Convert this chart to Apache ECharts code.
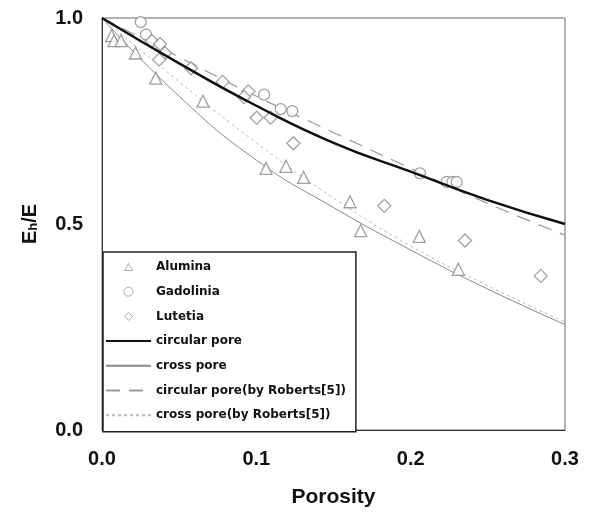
<!DOCTYPE html>
<html>
<head>
<meta charset="utf-8">
<script src="https://cdn.jsdelivr.net/npm/echarts@6/dist/echarts.min.js"></script>
<style>html,body{margin:0;padding:0;background:#fff}#c{width:596px;height:513px}</style>
</head>
<body>
<div id="c"></div>
<script>
// Measured data
const aluminaX = [0.0062, 0.0078, 0.0123, 0.0217, 0.0348, 0.0654, 0.1063, 0.1192, 0.1306, 0.1607, 0.1676, 0.2056, 0.2309];
const aluminaY = [0.957, 0.945, 0.945, 0.915, 0.854, 0.798, 0.635, 0.640, 0.613, 0.554, 0.484, 0.470, 0.390];
const gadoliniaX = [0.0251, 0.0285, 0.1050, 0.1158, 0.1233, 0.2060, 0.2233, 0.2270, 0.2298];
const gadoliniaY = [0.990, 0.960, 0.814, 0.779, 0.774, 0.623, 0.602, 0.602, 0.602];
const lutetiaX = [0.0322, 0.0376, 0.0408, 0.0371, 0.0577, 0.0782, 0.0948, 0.0920, 0.1002, 0.1093, 0.1240, 0.1829, 0.2352, 0.2843];
const lutetiaY = [0.944, 0.937, 0.915, 0.899, 0.878, 0.845, 0.822, 0.808, 0.758, 0.758, 0.696, 0.544, 0.460, 0.374];

const curveX = [0, 0.05, 0.1, 0.15, 0.2, 0.25, 0.3];
const circularPore = [1.0, 0.89, 0.787, 0.697, 0.627, 0.558, 0.500];
const crossPore = [1.0, 0.81, 0.655, 0.540, 0.437, 0.342, 0.256];
const circularRoberts = [1.0, 0.905, 0.810, 0.722, 0.635, 0.550, 0.473];
const crossRoberts = [1.0, 0.845, 0.697, 0.563, 0.447, 0.350, 0.262];

const xTicks = ['0.0', '0.1', '0.2', '0.3'];
const yTicks = ['0.0', '0.5', '1.0'];

const seriesNames = ['Alumina', 'Gadolinia', 'Lutetia', 'circular pore', 'cross pore',
  'circular pore(by Roberts[5])', 'cross pore(by Roberts[5])'];

const zip = (xs, ys) => xs.map((x, i) => [x, ys[i]]);

const markerStyle = { color: '#fff', borderColor: '#8a8a8a', borderWidth: 1.3 };
const legendMarkerStyle = { color: '#fff', borderColor: '#999', borderWidth: 1 };
const hiddenSymbol = { color: 'transparent', borderColor: 'transparent', borderWidth: 0, opacity: 0 };
// legend icons padded to the full 45x9 icon box so they are not stretched
const triIcon = 'path://M0 0M45 9M18.5 8L22.5 1L26.5 8Z';
const diaIcon = 'path://M0 0M45 9M22.5 0.5L26.5 4.5L22.5 8.5L18.5 4.5Z';

const chart = echarts.init(document.getElementById('c'), null, { renderer: 'canvas' });
chart.setOption({
  animation: false,
  backgroundColor: '#fff',
  grid: { left: 102, right: 31, top: 18, bottom: 81, show: true, borderColor: '#666', borderWidth: 1, backgroundColor: 'transparent' },
  legend: {
    orient: 'vertical', left: 103, top: 252,
    padding: [7.5, 10, 9, 2],
    itemWidth: 45, itemHeight: 9, itemGap: 9.7,
    backgroundColor: '#fff', borderColor: '#222', borderWidth: 1.5, borderRadius: 0,
    textStyle: { fontFamily: 'DejaVu Sans', fontWeight: 'bold', fontSize: 12, color: '#111', lineHeight: 15 },
    data: [
      { name: seriesNames[0], icon: triIcon, itemStyle: legendMarkerStyle },
      { name: seriesNames[1], icon: 'circle', itemStyle: legendMarkerStyle },
      { name: seriesNames[2], icon: diaIcon, itemStyle: legendMarkerStyle },
      { name: seriesNames[3], itemStyle: hiddenSymbol },
      { name: seriesNames[4], itemStyle: hiddenSymbol },
      { name: seriesNames[5], itemStyle: hiddenSymbol },
      { name: seriesNames[6], itemStyle: hiddenSymbol }
    ]
  },
  xAxis: {
    type: 'value', min: 0, max: 0.3, interval: 0.1,
    name: 'Porosity', nameLocation: 'middle', nameGap: 57,
    nameTextStyle: { fontFamily: 'Liberation Sans', fontWeight: 'bold', fontSize: 21, color: '#111' },
    axisLine: { show: true, lineStyle: { color: '#333', width: 1 } },
    axisTick: { show: false },
    splitLine: { show: false },
    axisLabel: { margin: 19, fontFamily: 'Liberation Sans', fontWeight: 'bold', fontSize: 20, color: '#111',
      formatter: (v) => xTicks[Math.round(v * 10)] }
  },
  yAxis: {
    type: 'value', min: 0, max: 1, interval: 0.5,
    name: '{b|E}{s|h}{b|/E}', nameLocation: 'middle', nameGap: 62, nameRotate: 90,
    nameTextStyle: {
      rich: {
        b: { fontFamily: 'Liberation Sans', fontWeight: 'bold', fontSize: 20, color: '#111' },
        s: { fontFamily: 'Liberation Sans', fontWeight: 'bold', fontSize: 13, color: '#111', verticalAlign: 'bottom', padding: [6, 0, 0, 0] }
      }
    },
    axisLine: { show: true, lineStyle: { color: '#333', width: 1 } },
    axisTick: { show: false },
    splitLine: { show: false },
    axisLabel: { margin: 19, fontFamily: 'Liberation Sans', fontWeight: 'bold', fontSize: 20, color: '#111',
      formatter: (v) => yTicks[Math.round(v * 2)] }
  },
  series: [
    { name: seriesNames[0], type: 'scatter', symbol: 'triangle', symbolSize: 12, itemStyle: markerStyle, data: zip(aluminaX, aluminaY), z: 3 },
    { name: seriesNames[1], type: 'scatter', symbol: 'circle', symbolSize: 11, itemStyle: markerStyle, data: zip(gadoliniaX, gadoliniaY), z: 3 },
    { name: seriesNames[2], type: 'scatter', symbol: 'diamond', symbolSize: 13, itemStyle: markerStyle, data: zip(lutetiaX, lutetiaY), z: 3 },
    { name: seriesNames[3], type: 'line', smooth: true, symbol: 'none', data: zip(curveX, circularPore),
      lineStyle: { color: '#111', width: 2.5 }, itemStyle: { color: '#111' }, z: 4 },
    { name: seriesNames[4], type: 'line', smooth: true, symbol: 'none', data: zip(curveX, crossPore),
      lineStyle: { color: '#888', width: 1 }, itemStyle: { color: '#888' }, z: 2 },
    { name: seriesNames[5], type: 'line', smooth: true, symbol: 'none', data: zip(curveX, circularRoberts),
      lineStyle: { color: '#999', width: 1.2, type: [14, 9] }, itemStyle: { color: '#999' }, z: 2 },
    { name: seriesNames[6], type: 'line', smooth: true, symbol: 'none', data: zip(curveX, crossRoberts),
      lineStyle: { color: '#bbb', width: 1, type: [3, 3] }, itemStyle: { color: '#bbb' }, z: 2 }
  ]
});
</script>
</body>
</html>
